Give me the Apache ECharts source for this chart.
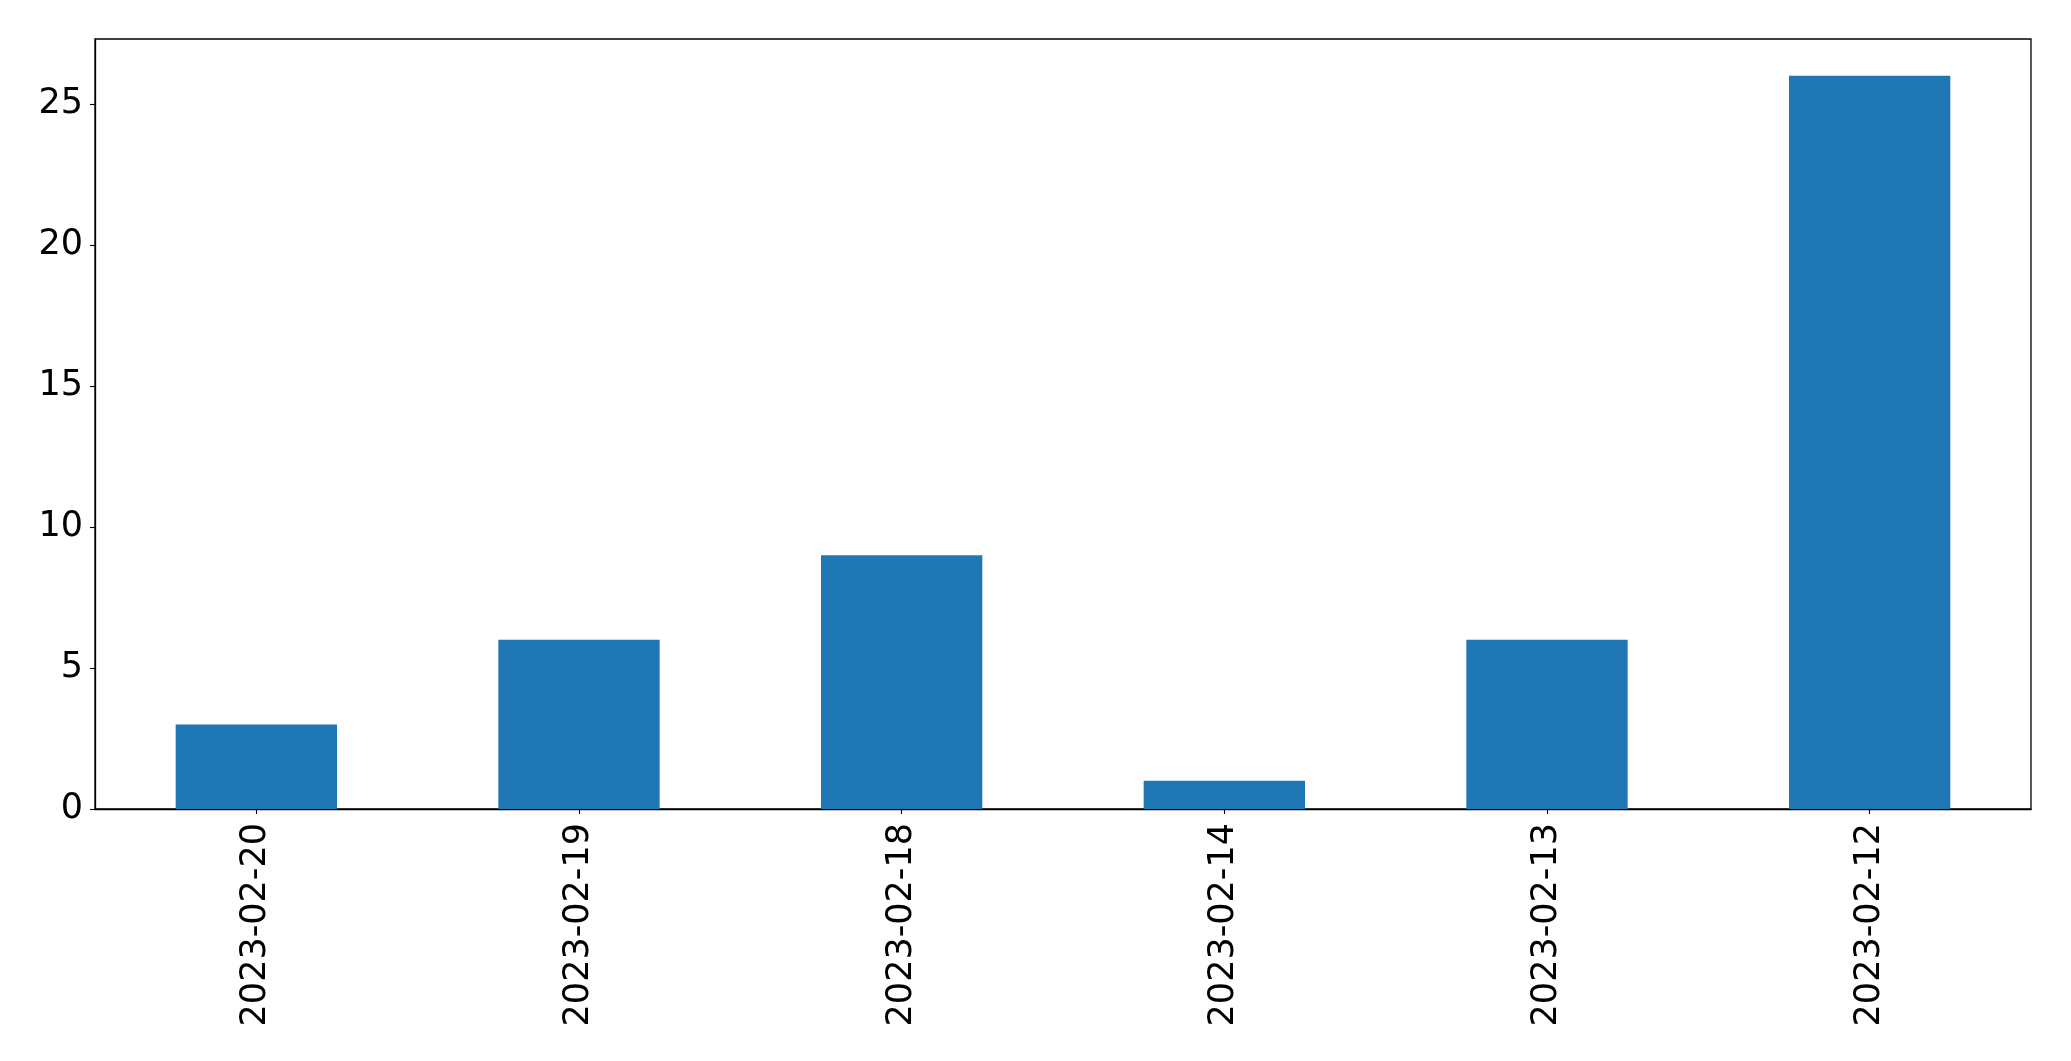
<!DOCTYPE html>
<html>
<head>
<meta charset="utf-8">
<script src="https://cdn.jsdelivr.net/npm/echarts@6/dist/echarts.min.js"></script>
<style>
html,body{margin:0;padding:0;background:#fff;}
#c{width:2071px;height:1061px;}
</style>
</head>
<body>
<div id="c"></div>
<script>
const categories = ['2023-02-20','2023-02-19','2023-02-18','2023-02-14','2023-02-13','2023-02-12'];
const values = [3, 6, 9, 1, 6, 26];
const yTicks = [0, 5, 10, 15, 20, 25];

const chart = echarts.init(document.getElementById('c'), null, {renderer: 'canvas'});
const font = 'DejaVu Sans';
chart.setOption({
  animation: false,
  backgroundColor: '#fff',
  grid: {
    left: 95, right: 40, top: 39, bottom: 252,
    show: true, borderColor: '#000', borderWidth: 1.3, backgroundColor: 'transparent'
  },
  xAxis: {
    type: 'category',
    data: categories,
    axisLine: {show: true, lineStyle: {color: '#000', width: 1.3}},
    axisTick: {show: true, alignWithLabel: true, length: 5, lineStyle: {color: '#000', width: 1.1}},
    axisLabel: {rotate: 90, margin: 14, color: '#000', fontSize: 35, fontFamily: font},
    splitLine: {show: false}
  },
  yAxis: {
    type: 'value',
    min: 0,
    max: 27.3,
    interval: 5,
    axisLine: {show: true, lineStyle: {color: '#000', width: 1.3}},
    axisTick: {show: true, length: 5, lineStyle: {color: '#000', width: 1.1}},
    axisLabel: {
      margin: 12, color: '#000', fontSize: 35, fontFamily: font,
      showMaxLabel: false,
      formatter: v => (yTicks.indexOf(v) >= 0 ? String(v) : '')
    },
    splitLine: {show: false}
  },
  series: [{
    type: 'bar',
    data: values,
    barWidth: '50%',
    itemStyle: {color: '#1f77b4'}
  }]
});
</script>
</body>
</html>
